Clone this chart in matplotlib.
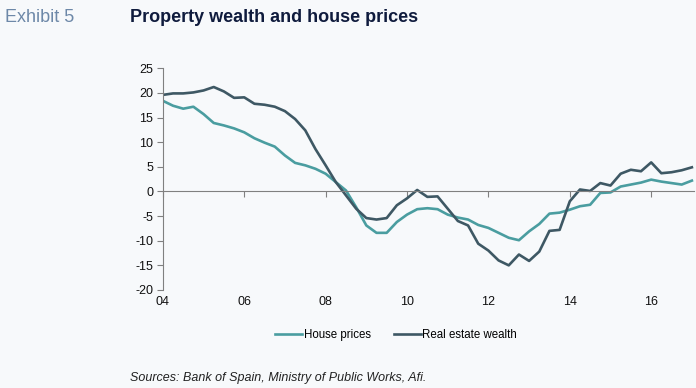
import numpy as np
import matplotlib
matplotlib.use("Agg")
import matplotlib.pyplot as plt

plt.rcParams['font.family'] = ['Liberation Sans', 'DejaVu Sans']
plt.rcParams['axes.unicode_minus'] = False

# quarterly data, 2004Q1 .. 2017Q1 (y/y %)
house_prices = [18.4, 17.4, 16.8, 17.2, 15.7, 13.9, 13.4, 12.8, 12.0, 10.8,
                9.9, 9.1, 7.3, 5.8, 5.3, 4.6, 3.6, 1.9, 0.2, -3.2,
                -6.9, -8.4, -8.4, -6.2, -4.7, -3.6, -3.4, -3.6, -4.7, -5.3,
                -5.7, -6.8, -7.4, -8.4, -9.4, -9.9, -8.1, -6.6, -4.5, -4.3,
                -3.7, -3.0, -2.7, -0.3, -0.2, 1.0, 1.4, 1.8, 2.4, 2.0,
                1.7, 1.4, 2.2]
real_estate_wealth = [19.6, 19.9, 19.9, 20.1, 20.5, 21.2, 20.3, 19.0, 19.1, 17.8,
                      17.6, 17.2, 16.3, 14.7, 12.4, 8.6, 5.3, 1.9, -0.8, -3.5,
                      -5.4, -5.7, -5.4, -2.8, -1.4, 0.3, -1.1, -1.0, -3.5, -6.0,
                      -6.9, -10.6, -12.0, -14.0, -15.0, -12.8, -14.1, -12.2, -8.0, -7.8,
                      -2.0, 0.4, 0.1, 1.7, 1.2, 3.6, 4.4, 4.1, 5.9, 3.7,
                      3.9, 4.3, 4.9]
years = 2004 + np.arange(len(house_prices)) / 4
tick_years = [2004, 2006, 2008, 2010, 2012, 2014, 2016]
tick_labels = ['04', '06', '08', '10', '12', '14', '16']

bg = '#f7f9fb'
teal = '#4a9da0'
dark = '#3e5864'
txt = '#111111'

fig = plt.figure(figsize=(6.96, 3.88), dpi=100, facecolor=bg)
ax = fig.add_axes([0.234, 0.2526, 0.763, 0.5714])
ax.set_facecolor(bg)

ax.plot(years, house_prices, color=teal, lw=1.9, label='House prices')
ax.plot(years, real_estate_wealth, color=dark, lw=1.9, label='Real estate wealth')

ax.set_xlim(2004, 2017.05)
ax.set_ylim(-20, 25)
ax.set_yticks(range(-20, 30, 5))
ax.tick_params(axis='y', labelsize=9, colors='#808080', labelcolor=txt, length=4, width=0.8, pad=3)

for s in ['top', 'right']:
    ax.spines[s].set_visible(False)
ax.spines['left'].set_color('#808080')
ax.spines['bottom'].set_position(('data', 0))
ax.spines['bottom'].set_color('#808080')
ax.set_xticks(tick_years)
ax.tick_params(axis='x', direction='out', length=4, colors='#808080', labelbottom=False)

sec = ax.secondary_xaxis('bottom')
sec.set_xticks(tick_years)
sec.set_xticklabels(tick_labels)
sec.spines['bottom'].set_visible(False)
sec.tick_params(length=0, labelsize=9, labelcolor=txt, pad=4)

fig.legend(loc='center', bbox_to_anchor=(0.569, 0.137), ncol=2, frameon=False,
           fontsize=8.3, handlelength=2.4, handletextpad=0.1, columnspacing=2.0)

fig.text(0.007, 0.955, 'Exhibit 5', fontsize=13, color='#6d88a8', va='center')
fig.text(0.187, 0.955, 'Property wealth and house prices', fontsize=13,
         fontweight='bold', color='#0f1b3d', va='center')
fig.text(0.187, 0.027, 'Sources: Bank of Spain, Ministry of Public Works, Afi.',
         fontsize=9, style='italic', color='#222222', va='center')

fig.savefig('out.png', dpi=100, facecolor=bg)
